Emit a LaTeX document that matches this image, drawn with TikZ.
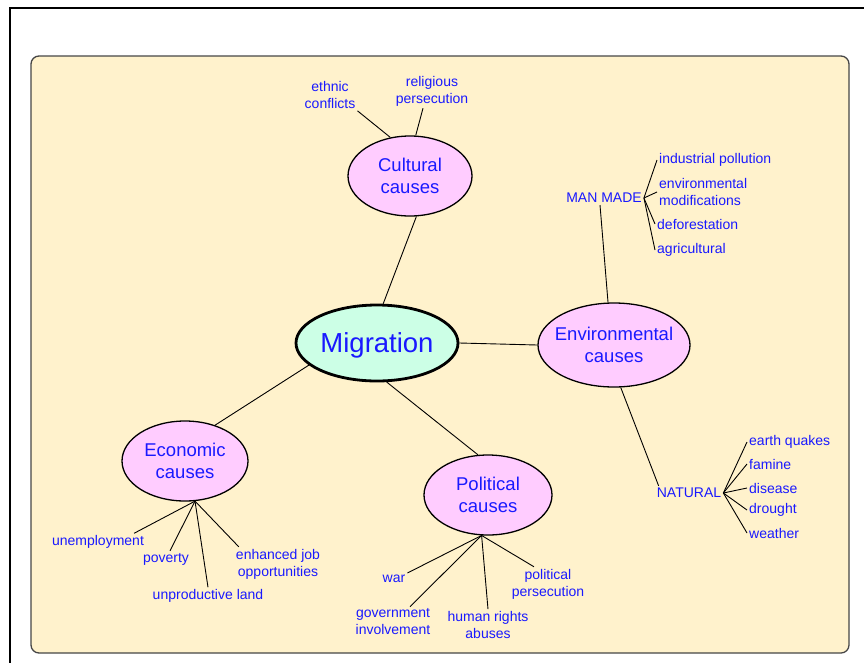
\documentclass[tikz,border=0pt]{standalone}
\usepackage{fontspec}
\setmainfont{Liberation Sans}
\usetikzlibrary{shapes.geometric}
\definecolor{bgyellow}{RGB}{255,242,204}
\definecolor{causepink}{RGB}{255,204,255}
\definecolor{migmint}{RGB}{204,255,230}
\definecolor{txtblue}{RGB}{25,25,255}
\definecolor{boxedge}{RGB}{70,70,70}
\begin{document}
\begin{tikzpicture}[x=1pt,y=-1pt,
  cause/.style={ellipse, draw=black, line width=1.3pt, fill=causepink, inner sep=-40pt,
    text=txtblue, font=\fontsize{18.5}{22}\selectfont, align=center},
  migstyle/.style={ellipse, draw=black, line width=2.8pt, fill=migmint, inner sep=-40pt,
    minimum width=162pt, minimum height=76pt, text=txtblue, text depth=0pt,
    font=\fontsize{27.5}{30}\selectfont},
  leaf/.style={text=txtblue, font=\fontsize{14}{17}\selectfont, inner sep=2pt, align=center, yshift=-2pt},
  link/.style={draw=black, line width=0.9pt}]
\useasboundingbox (0,0) rectangle (864,662);
\clip (0,0) rectangle (864,662);
% frames
\draw[line width=1.6pt] (10,8) rectangle (900,700);
\draw[draw=boxedge, line width=1.3pt, fill=bgyellow, rounded corners=8pt] (31,56) rectangle (849,653);

% main nodes
\node[migstyle] (mig) at (377,343) {Migration};
\node[cause, minimum width=124pt, minimum height=80pt] (cult) at (410,176) {Cultural\\causes};
\node[cause, minimum width=152pt, minimum height=84pt] (env) at (614,345) {Environmental\\causes};
\node[cause, minimum width=126pt, minimum height=80pt] (econ) at (185,461) {Economic\\causes};
\node[cause, minimum width=128pt, minimum height=80pt] (pol) at (488,495) {Political\\causes};

% cultural leaves
\node[leaf] (ec) at (330,93) {ethnic\\conflicts};
\node[leaf] (rp) at (432,89) {religious\\persecution};

% environmental sub-nodes
\node[leaf] (mm) at (604,196) {MAN MADE};
\node[leaf, anchor=west] (ip) at (657,158) {industrial pollution};
\node[leaf, anchor=west, align=left] (em) at (657,190) {environmental\\modifications};
\node[leaf, anchor=west] (def) at (655,222) {deforestation};
\node[leaf, anchor=west] (agr) at (655,248) {agricultural};

\node[leaf] (nat) at (689,491) {NATURAL};
\node[leaf, anchor=west] (eq) at (747,440) {earth quakes};
\node[leaf, anchor=west] (fam) at (747,462) {famine};
\node[leaf, anchor=west] (dis) at (747,486) {disease};
\node[leaf, anchor=west] (dro) at (747,508) {drought};
\node[leaf, anchor=west] (wea) at (747,531) {weather};

% economic leaves
\node[leaf] (un) at (98,540) {unemployment};
\node[leaf] (pov) at (166,557) {poverty};
\node[leaf] (ul) at (208,594) {unproductive land};
\node[leaf] (ej) at (278,562) {enhanced job\\opportunities};

% political leaves
\node[leaf] (war) at (394,577) {war};
\node[leaf] (gov) at (393,620) {government\\involvement};
\node[leaf] (hr) at (488,623) {human rights\\abuses};
\node[leaf] (pp) at (548,582) {political\\persecution};

% main connectors
\draw[link] (mig.81) -- (cult.-81);
\draw[link] (mig.east) -- (env.west);
\draw[link] (mig.198) -- (econ.50);
\draw[link] (mig.-76) -- (pol.104);

% cultural
\draw[link] (ec.south east) -- (cult.117);
\draw[link] ([xshift=-9pt]rp.south) -- (cult.82);

% environmental
\draw[link] (env.98) -- ([xshift=-4pt]mm.south);
\draw[link] (env.-81) -- ([xshift=4pt]nat.north west);
\foreach \t in {ip,em,def,agr} \draw[link] (mm.east) -- (\t.west);
\foreach \t in {eq,fam,dis,dro,wea} \draw[link] (nat.east) -- (\t.west);

% economic
\draw[link] (econ.-76) -- ([xshift=-12pt]un.north east);
\draw[link] (econ.-76) -- ([xshift=4pt]pov.north);
\draw[link] (econ.-76) -- (ul.north);
\draw[link] (econ.-76) -- ([xshift=5pt]ej.north west);

% political
\draw[link] (pol.-99) -- (war.north east);
\draw[link] (pol.-99) -- ([xshift=17pt]gov.north);
\draw[link] (pol.-99) -- (hr.north);
\draw[link] (pol.-99) -- ([xshift=-14pt]pp.north);
\end{tikzpicture}
\end{document}
